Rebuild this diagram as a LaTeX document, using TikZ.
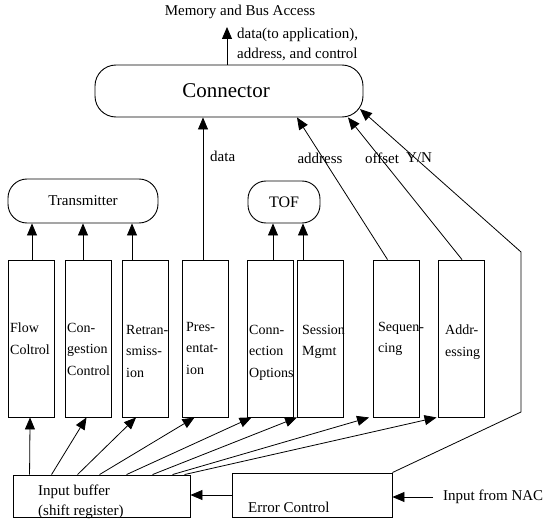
\documentclass[tikz,border=0pt]{standalone}
\usepackage{fontspec}
\setmainfont{Liberation Serif}
\usetikzlibrary{arrows.meta}
\begin{document}
\begin{tikzpicture}[x=1pt,y=-1pt,
  every node/.style={inner sep=0pt, font=\fontsize{15}{20}\selectfont},
  pill/.style={draw, line width=0.9pt, rounded corners=19pt},
  blk/.style={draw, line width=0.9pt, minimum width=46pt, minimum height=157pt},
  plain/.style={draw, line width=0.9pt},
  lbl/.style={anchor=north west, align=left, font=\fontsize{14}{21.5}\selectfont},
  arr/.style={line width=0.8pt, -{Triangle[length=12pt,width=10pt]}}]
\useasboundingbox (0,0) rectangle (547,519);

% top-level connector and its output
\node[pill, minimum width=268pt, minimum height=52pt, rounded corners=21pt] (conn) at (229,91) {};
\node[font=\fontsize{21}{25}\selectfont] (connl) at (226,91) {Connector};
\node (mem) at (240,12) {Memory and Bus Access};
\node[anchor=west, align=left] (out) at (237,44) {data(to application),\\address, and control};
\coordinate (outtip) at (227,27);
\draw[arr] (outtip |- conn.north) -- (outtip);

% transmitter and TOF
\node[pill, minimum width=150pt, minimum height=44pt] (tx) at (83,201) {Transmitter};
\node[pill, minimum width=72pt, minimum height=42pt, rounded corners=18pt, font=\fontsize{16}{20}\selectfont] (tof) at (284,202) {TOF};

% protocol function blocks
\node[blk] (b1) at (31.5,338.5) {};
\node[blk] (b2) at (88,338.5) {};
\node[blk] (b3) at (145.5,338.5) {};
\node[blk] (b4) at (205,338.5) {};
\node[blk] (b5) at (270,338.5) {};
\node[blk] (b6) at (320.5,338.5) {};
\node[blk] (b7) at (396.5,338.5) {};
\node[blk] (b8) at (461,338.5) {};

\node[lbl] (t1) at (10,323) {Flow\\Coltrol};
\node[lbl] (t2) at (67,323) {Con-\\gestion\\Control};
\node[lbl] (t3) at (126,325) {Retran-\\smiss-\\ion};
\node[lbl] (t4) at (186,322) {Pres-\\entat-\\ion};
\node[lbl] (t5) at (249,325) {Conn-\\ection\\Options};
\node[lbl] (t6) at (302,325) {Session\\Mgmt};
\node[lbl] (t7) at (378,322) {Sequen-\\cing};
\node[lbl] (t8) at (445,325) {Addr-\\essing};

% blocks feeding the transmitter
\coordinate (u1) at ([xshift=0.5pt]b1.north);
\coordinate (u2) at ([xshift=-5pt]b2.north);
\coordinate (u3) at ([xshift=-13.5pt]b3.north);
\draw[arr] (u1) -- (u1 |- tx.south);
\draw[arr] (u2) -- (u2 |- tx.south);
\draw[arr] (u3) -- (u3 |- tx.south);

% blocks feeding TOF
\coordinate (u5) at ([xshift=3pt]b5.north);
\coordinate (u6) at ([xshift=-17.5pt]b6.north);
\draw[arr] (u5) -- (u5 |- tof.south);
\draw[arr] (u6) -- (u6 |- tof.south);

% blocks feeding the connector
\coordinate (u4) at ([xshift=-2pt]b4.north);
\draw[arr] (u4) -- (u4 |- conn.south);
\node[anchor=west] (ldata) at (210,156) {data};

\coordinate (u7) at ([xshift=-9pt]b7.north);
\coordinate (c7) at ([xshift=68pt]conn.south);
\draw[arr] (u7) -- (c7);
\node (laddr) at (320,158) {address};

\coordinate (u8) at ([xshift=1pt]b8.north);
\coordinate (c8) at ([xshift=119pt]conn.south);
\draw[arr] (u8) -- (c8);
\node (loff) at (382,158) {offset};

% input side
\node[plain, minimum width=177pt, minimum height=42pt] (ib) at (101.5,496) {};
\node[anchor=west, align=left] (ibl) at (38,502) {Input buffer\\(shift register)};
\node[plain, minimum width=160pt, minimum height=44pt] (ec) at (312,495) {};
\node[anchor=west] (ecl) at (248,507) {Error Control};
\node[anchor=west] (nac) at (443,497) {Input from NAC};
\coordinate (nacin) at (433,497);
\draw[arr] (nacin) -- (nacin -| ec.east);
\draw[arr] (ec.west) -- (ec.west -| ib.east);

% Y/N path from error control up to the connector
\coordinate (ynlow) at (521,412);
\coordinate (ynhigh) at (521,252);
\coordinate (yntip) at (360,109);
\draw[arr] (ec.north east) -- (ynlow) -- (ynhigh) -- (yntip);
\node (lyn) at (419,158) {Y/N};

% input buffer fan-out to the blocks
\foreach \s/\b/\t in {17/b1/22, 39/b2/22, 65/b3/14, 87/b4/13, 114/b5/5, 140/b6/0, 160/b7/-4, 172/b8/-1} {
  \draw[arr] ([xshift=\s pt]ib.north west) -- ([xshift=\t pt]\b.south west);
}
\end{tikzpicture}
\end{document}
